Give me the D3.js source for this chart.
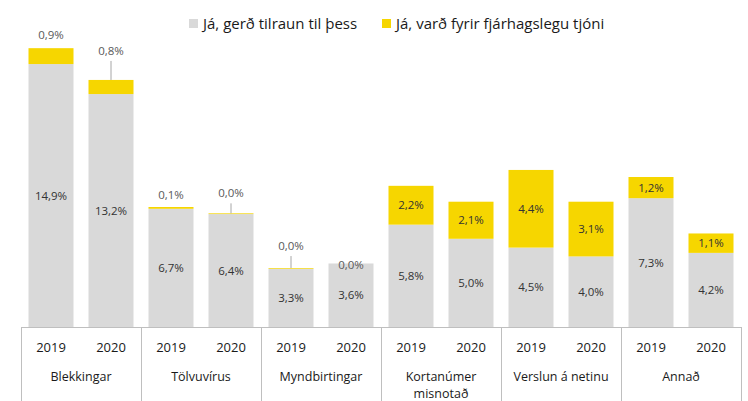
<!DOCTYPE html>
<html>
<head>
<meta charset="utf-8">
<script src="https://cdn.jsdelivr.net/npm/d3@7"></script>
<style>
  body { margin: 0; background: #fff; }
  text { font-family: "Open Sans", sans-serif; }
</style>
</head>
<body>
<script>
"use strict";

// data
var categories = ["Blekkingar", "Tölvuvírus", "Myndbirtingar", "Kortanúmer misnotað", "Verslun á netinu", "Annað"];
var years = ["2019", "2020"];
var attempted2019 = [14.9, 6.7, 3.3, 5.8, 4.5, 7.3];
var attempted2020 = [13.2, 6.4, 3.6, 5.0, 4.0, 4.2];
var loss2019 = [0.9, 0.1, 0.04, 2.2, 4.4, 1.2];
var loss2020 = [0.8, 0.04, 0.0, 2.1, 3.1, 1.1];
var seriesNames = ["Já, gerð tilraun til þess", "Já, varð fyrir fjárhagslegu tjóni"];

// where small yellow labels sit (px above bar top) and whether a leader is drawn
var smallLabel = {
  "Blekkingar|2019": { lift: 9, leader: false },
  "Blekkingar|2020": { lift: 25, leader: true },
  "Tölvuvírus|2019": { lift: 8, leader: false },
  "Tölvuvírus|2020": { lift: 16, leader: true },
  "Myndbirtingar|2019": { lift: 18, leader: true },
  "Myndbirtingar|2020": { lift: -6, leader: false }
};

var width = 748, height = 401;
var colors = ["#d9d9d9", "#f6d600"];

var rows = [];
categories.forEach(function (c, i) {
  rows.push({ cat: c, year: "2019", a: attempted2019[i], b: loss2019[i] });
  rows.push({ cat: c, year: "2020", a: attempted2020[i], b: loss2020[i] });
});

var stack = d3.stack().keys(["a", "b"]);
var layers = stack(rows);

var svg = d3.select("body").append("svg")
    .attr("width", width)
    .attr("height", height);

var x0 = d3.scaleBand().domain(categories).range([21, 741]).padding(0);
var x1 = d3.scaleBand().domain(years).range([0, x0.bandwidth()])
    .paddingInner(0.25).paddingOuter(0.125);
var y = d3.scaleLinear().domain([0, 17]).range([327, 27]);

var fmt = function (v) { return d3.format(".1f")(v).replace(".", ",") + "%"; };
var barX = function (d) { return x0(d.data.cat) + x1(d.data.year); };

// bars
svg.selectAll(".layer")
    .data(layers)
    .enter()
      .append("g")
      .attr("class", "layer")
      .attr("fill", function (d, i) { return colors[i]; })
    .selectAll("rect")
    .data(function (d) { return d; })
    .enter()
      .append("rect")
      .attr("x", barX)
      .attr("width", x1.bandwidth())
      .attr("y", function (d) { return y(d[1]); })
      .attr("height", function (d) { return y(d[0]) - y(d[1]); });

// gray labels, centred in segment
svg.selectAll(".lblA")
    .data(layers[0])
    .enter()
      .append("text")
      .attr("class", "lblA")
      .attr("x", function (d) { return barX(d) + x1.bandwidth() / 2; })
      .attr("y", function (d) { return (y(d[0]) + y(d[1])) / 2 + 4; })
      .attr("text-anchor", "middle")
      .style("font-size", "11.5px")
      .style("fill", "#333")
      .text(function (d) { return fmt(d.data.a); });

// yellow labels
var lblB = svg.selectAll(".lblB")
    .data(layers[1])
    .enter()
      .append("g")
      .attr("class", "lblB");

lblB.each(function (d) {
  var g = d3.select(this);
  var cx = barX(d) + x1.bandwidth() / 2;
  var s = smallLabel[d.data.cat + "|" + d.data.year];
  if (s) {
    var top = y(d[1]);
    var base = top - s.lift;
    if (s.leader) {
      g.append("line")
        .attr("x1", cx).attr("x2", cx)
        .attr("y1", top).attr("y2", base + 6)
        .style("stroke", "#a6a6a6")
        .style("stroke-width", 1);
    }
    g.append("text")
      .attr("x", cx)
      .attr("y", base)
      .attr("text-anchor", "middle")
      .style("font-size", "11.5px")
      .style("fill", "#595959")
      .text(fmt(d.data.b));
  } else {
    g.append("text")
      .attr("x", cx)
      .attr("y", (y(d[0]) + y(d[1])) / 2 + 4)
      .attr("text-anchor", "middle")
      .style("font-size", "11.5px")
      .style("fill", "#333")
      .text(fmt(d.data.b));
  }
});

// axis
var axisColor = "#bfbfbf";
svg.append("line")
    .attr("x1", x0.range()[0]).attr("x2", x0.range()[1])
    .attr("y1", y(0) + 0.5).attr("y2", y(0) + 0.5)
    .style("stroke", axisColor);

var bounds = categories.map(function (c) { return x0(c); }).concat([x0.range()[1]]);
svg.selectAll(".sep")
    .data(bounds)
    .enter()
      .append("line")
      .attr("class", "sep")
      .attr("x1", function (d) { return Math.round(d) + 0.5; })
      .attr("x2", function (d) { return Math.round(d) + 0.5; })
      .attr("y1", y(0))
      .attr("y2", height)
      .style("stroke", axisColor);

// year labels
svg.selectAll(".yr")
    .data(rows)
    .enter()
      .append("text")
      .attr("class", "yr")
      .attr("x", function (d) { return x0(d.cat) + x1(d.year) + x1.bandwidth() / 2; })
      .attr("y", 352)
      .attr("text-anchor", "middle")
      .style("font-size", "13px")
      .style("fill", "#1a1a1a")
      .text(function (d) { return d.year; });

// category labels (the long one wraps onto two lines)
var catLines = [];
categories.forEach(function (c) {
  var parts = c === "Kortanúmer misnotað" ? c.split(" ") : [c];
  parts.forEach(function (p, i) { catLines.push({ cat: c, text: p, line: i }); });
});

svg.selectAll(".cat")
    .data(catLines)
    .enter()
      .append("text")
      .attr("class", "cat")
      .attr("x", function (d) { return x0(d.cat) + x0.bandwidth() / 2; })
      .attr("y", function (d) { return 381 + d.line * 17; })
      .attr("text-anchor", "middle")
      .style("font-size", "12.5px")
      .style("fill", "#1a1a1a")
      .text(function (d) { return d.text; });

// legend
var legend = svg.selectAll(".legend")
    .data(seriesNames)
    .enter()
      .append("g")
      .attr("class", "legend")
      .attr("transform", function (d, i) { return "translate(" + (i === 0 ? 189 : 382) + ",19)"; });

legend.append("rect")
    .attr("width", 9)
    .attr("height", 9)
    .attr("fill", function (d, i) { return colors[i]; });

legend.append("text")
    .attr("x", 14)
    .attr("y", 9.5)
    .style("font-size", "15px")
    .style("fill", "#1a1a1a")
    .text(function (d) { return d; });
</script>
</body>
</html>
